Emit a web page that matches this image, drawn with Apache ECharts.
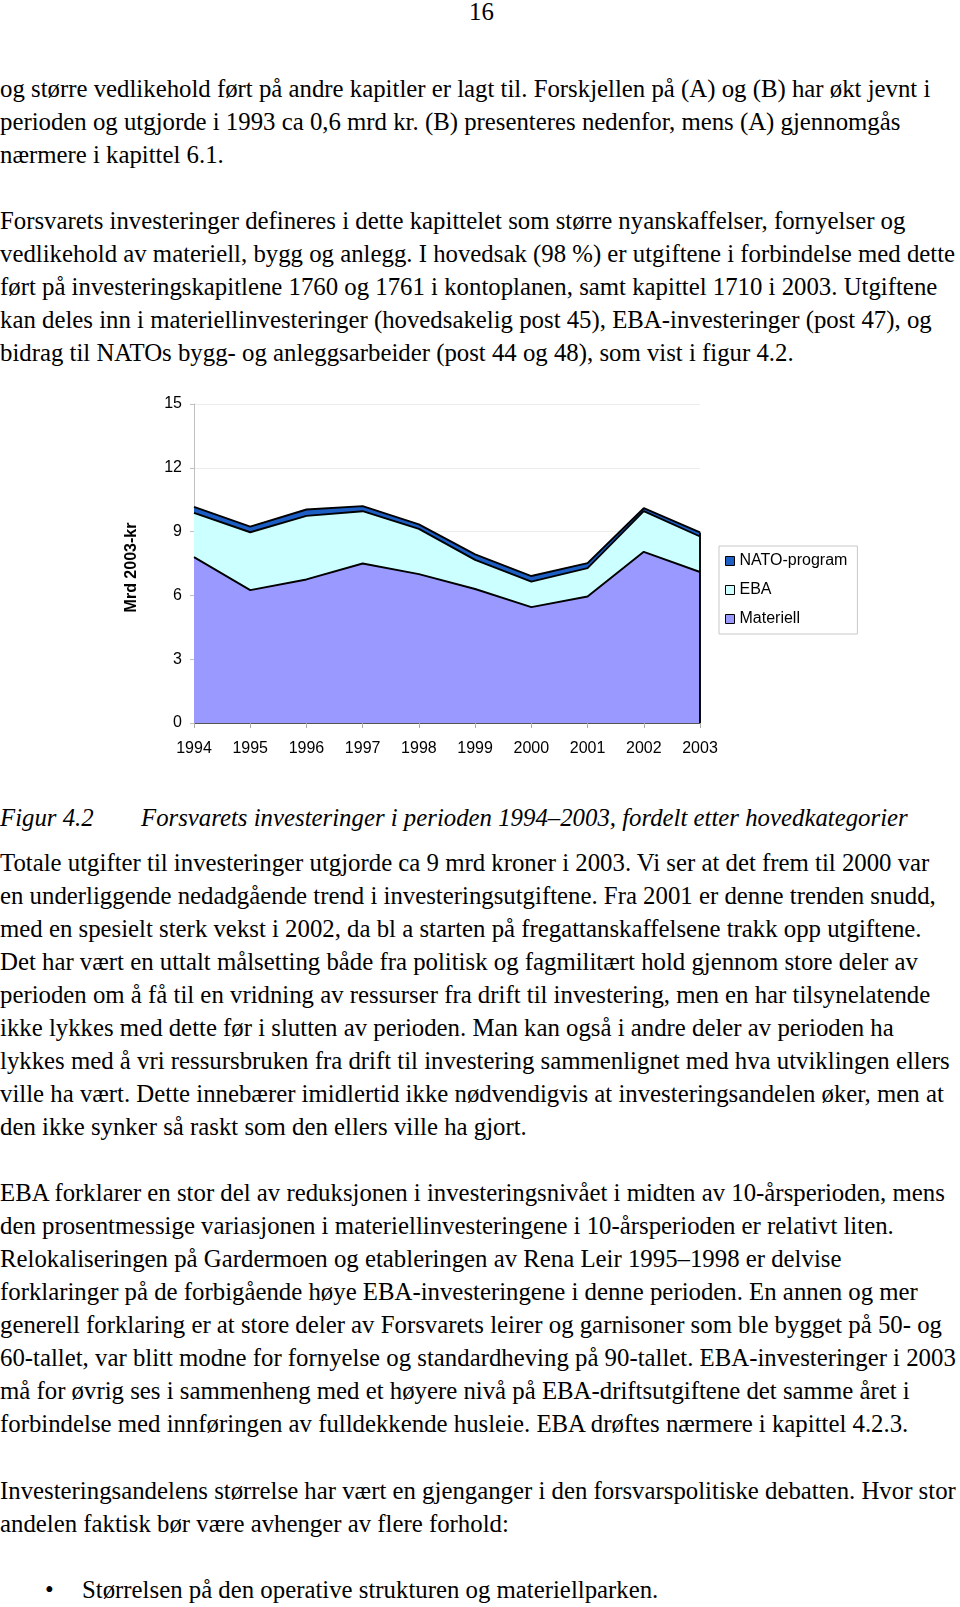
<!DOCTYPE html>
<html>
<head>
<meta charset="utf-8">
<script src="https://cdn.jsdelivr.net/npm/echarts@6/dist/echarts.min.js"></script>
<style>
  html, body { margin:0; padding:0; background:#fff; }
  body { width:960px; height:1607px; position:relative; overflow:hidden;
         font-family:"Liberation Serif","Times New Roman",serif; font-size:24.8px; color:#000; }
  .blk { position:absolute; left:0; white-space:nowrap; line-height:33.05px; }
  .it { font-style:italic; }
  #chart { position:absolute; left:0; top:380px; width:960px; height:390px; }
</style>
</head>
<body>
<div class="blk" style="top:-5px;left:469px;">16</div>

<div class="blk" style="top:72px;">og større vedlikehold ført på andre kapitler er lagt til. Forskjellen på (A) og (B) har økt jevnt i<br>perioden og utgjorde i 1993 ca 0,6 mrd kr. (B) presenteres nedenfor, mens (A) gjennomgås<br>nærmere i kapittel 6.1.</div>

<div class="blk" style="top:204px;">Forsvarets investeringer defineres i dette kapittelet som større nyanskaffelser, fornyelser og<br>vedlikehold av materiell, bygg og anlegg. I hovedsak (98 %) er utgiftene i forbindelse med dette<br>ført på investeringskapitlene 1760 og 1761 i kontoplanen, samt kapittel 1710 i 2003. Utgiftene<br>kan deles inn i materiellinvesteringer (hovedsakelig post 45), EBA-investeringer (post 47), og<br>bidrag til NATOs bygg- og anleggsarbeider (post 44 og 48), som vist i figur 4.2.</div>

<div id="chart"></div>

<div class="blk it" style="top:801px;">Figur 4.2</div>
<div class="blk it" style="top:801px;left:141px;">Forsvarets investeringer i perioden 1994–2003, fordelt etter hovedkategorier</div>

<div class="blk" style="top:846px;">Totale utgifter til investeringer utgjorde ca 9 mrd kroner i 2003. Vi ser at det frem til 2000 var<br>en underliggende nedadgående trend i investeringsutgiftene. Fra 2001 er denne trenden snudd,<br>med en spesielt sterk vekst i 2002, da bl a starten på fregattanskaffelsene trakk opp utgiftene.<br>Det har vært en uttalt målsetting både fra politisk og fagmilitært hold gjennom store deler av<br>perioden om å få til en vridning av ressurser fra drift til investering, men en har tilsynelatende<br>ikke lykkes med dette før i slutten av perioden. Man kan også i andre deler av perioden ha<br>lykkes med å vri ressursbruken fra drift til investering sammenlignet med hva utviklingen ellers<br>ville ha vært. Dette innebærer imidlertid ikke nødvendigvis at investeringsandelen øker, men at<br>den ikke synker så raskt som den ellers ville ha gjort.</div>

<div class="blk" style="top:1176px;">EBA forklarer en stor del av reduksjonen i investeringsnivået i midten av 10-årsperioden, mens<br>den prosentmessige variasjonen i materiellinvesteringene i 10-årsperioden er relativt liten.<br>Relokaliseringen på Gardermoen og etableringen av Rena Leir 1995–1998 er delvise<br>forklaringer på de forbigående høye EBA-investeringene i denne perioden. En annen og mer<br>generell forklaring er at store deler av Forsvarets leirer og garnisoner som ble bygget på 50- og<br>60-tallet, var blitt modne for fornyelse og standardheving på 90-tallet. EBA-investeringer i 2003<br>må for øvrig ses i sammenheng med et høyere nivå på EBA-driftsutgiftene det samme året i<br>forbindelse med innføringen av fulldekkende husleie. EBA drøftes nærmere i kapittel 4.2.3.</div>

<div class="blk" style="top:1474px;">Investeringsandelens størrelse har vært en gjenganger i den forsvarspolitiske debatten. Hvor stor<br>andelen faktisk bør være avhenger av flere forhold:</div>

<div class="blk" style="top:1573px;left:45px;">•</div>
<div class="blk" style="top:1573px;left:82px;">Størrelsen på den operative strukturen og materiellparken.</div>

<script>
// ---- data ----
const years = ['1994','1995','1996','1997','1998','1999','2000','2001','2002','2003'];
const materiell = [7.8, 6.25, 6.75, 7.5, 7.0, 6.3, 5.45, 5.95, 8.05, 7.1];
const eba       = [2.08, 2.72, 2.99, 2.46, 2.13, 1.37, 1.2, 1.33, 1.91, 1.67];
const nato      = [0.28, 0.26, 0.3, 0.24, 0.21, 0.26, 0.26, 0.24, 0.14, 0.19];
const legendNames = ['NATO-program', 'EBA', 'Materiell'];
const yMin = 0, yMax = 15, yStep = 3;
const yTitle = 'Mrd 2003-kr';

const colors = { Materiell: '#9999FF', EBA: '#CCFFFF', 'NATO-program': '#1C5EC4' };
const font = '"Liberation Sans", Arial, sans-serif';
const lastIdx = years.length - 1;
const lastTotal = materiell[lastIdx] + eba[lastIdx] + nato[lastIdx];

function areaSeries(name, data) {
  return {
    name, type: 'line', stack: 'area', data, symbol: 'none', z: 2,
    lineStyle: { width: 0 },
    itemStyle: { color: colors[name] },
    areaStyle: { color: colors[name], opacity: 1 },
    emphasis: { disabled: true }, silent: true
  };
}
function borderSeries(name, data, extra) {
  return Object.assign({
    name: name + ' border', type: 'line', stack: 'border', data, symbol: 'none', z: 3,
    lineStyle: { color: '#000', width: 1.9 },
    itemStyle: { color: '#000' },
    emphasis: { disabled: true }, silent: true
  }, extra || {});
}

const chart = echarts.init(document.getElementById('chart'), null, { renderer: 'canvas' });
chart.setOption({
  animation: false,
  textStyle: { fontFamily: font },
  grid: { left: 194, top: 24, width: 506, height: 319, containLabel: false },
  legend: {
    data: legendNames, orient: 'vertical', left: 719, top: 166,
    icon: 'rect', itemWidth: 9, itemHeight: 9, itemGap: 13,
    padding: [7, 10, 7, 6], borderColor: '#c8c8c8', borderWidth: 1,
    textStyle: { fontSize: 16, color: '#000', fontFamily: font, lineHeight: 16 },
    itemStyle: { borderColor: '#000', borderWidth: 1 },
    selectedMode: false
  },
  xAxis: {
    type: 'category', data: years, boundaryGap: false,
    axisLine: { lineStyle: { color: '#555', width: 1 } },
    axisTick: { show: true, length: 5, lineStyle: { color: '#aaa' } },
    axisLabel: { fontSize: 16, color: '#000', margin: 18, fontFamily: font },
    splitLine: { show: false }
  },
  yAxis: {
    type: 'value', min: yMin, max: yMax, interval: yStep,
    name: yTitle, nameLocation: 'middle', nameGap: 54, nameRotate: 90,
    nameTextStyle: { fontSize: 16, fontWeight: 'bold', color: '#000', fontFamily: font, padding: [0, 8, 0, 0] },
    axisLine: { show: true, lineStyle: { color: '#c0c0c0' } },
    axisTick: { show: true, length: 4, lineStyle: { color: '#c0c0c0' } },
    axisLabel: { fontSize: 16, color: '#000', margin: 12, fontFamily: font },
    splitLine: { show: true, lineStyle: { color: '#ececec' } }
  },
  series: [
    areaSeries('Materiell', materiell),
    areaSeries('EBA', eba),
    areaSeries('NATO-program', nato),
    borderSeries('Materiell', materiell),
    borderSeries('EBA', eba),
    borderSeries('NATO-program', nato, {
      markLine: {
        silent: true, symbol: 'none', label: { show: false },
        lineStyle: { color: '#000', width: 1.9, type: 'solid' },
        data: [[{ coord: [years[lastIdx], 0] }, { coord: [years[lastIdx], lastTotal] }]]
      }
    })
  ]
});
</script>
</body>
</html>
